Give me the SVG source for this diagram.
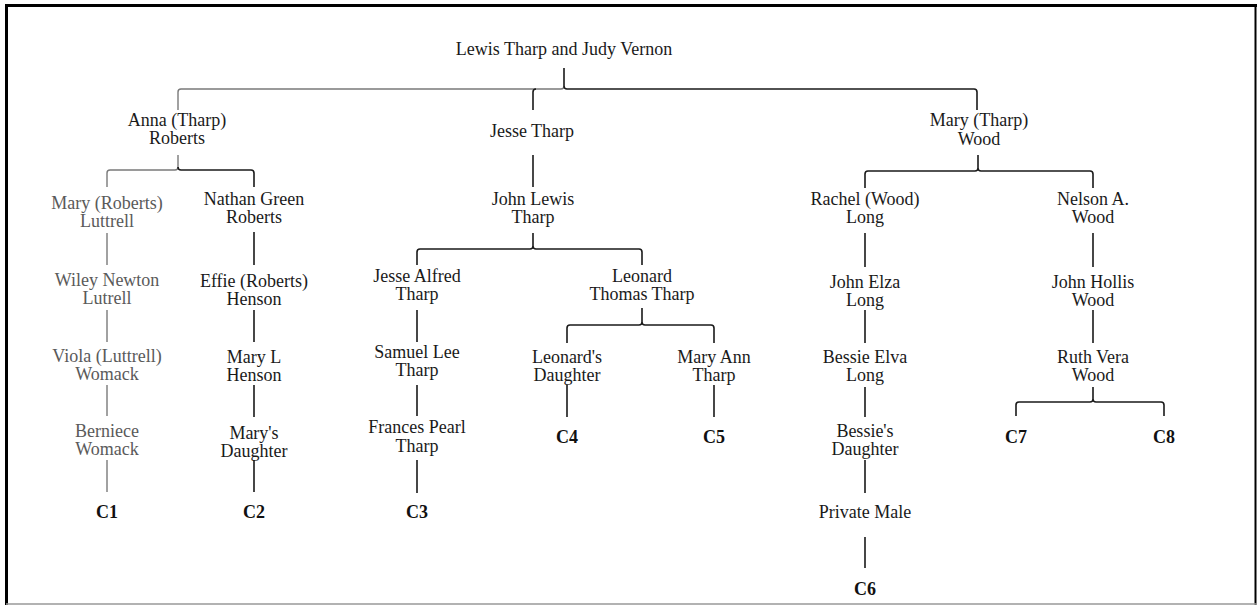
<svg xmlns="http://www.w3.org/2000/svg" width="1259" height="605" viewBox="0 0 1259 605">
<style>
text{font-family:"Liberation Serif","Times New Roman",serif;font-size:18px;text-anchor:middle;fill:#1a1a1a}
.g text{fill:#5a5a5a}
.c{font-weight:bold;fill:#111}
.ln{fill:none;stroke:#1a1a1a;stroke-width:1.6}
.lg{fill:none;stroke:#7a7a7a;stroke-width:1.4}
</style>
<rect x="0" y="0" width="1259" height="605" fill="#fff"/>
<g id="frame">
<line x1="6.5" y1="4" x2="6.5" y2="605" stroke="#000" stroke-width="3"/>
<line x1="5" y1="5.5" x2="1257" y2="5.5" stroke="#000" stroke-width="3"/>
<line x1="1255.5" y1="4" x2="1255.5" y2="605" stroke="#000" stroke-width="2"/>
<line x1="6" y1="604" x2="1257" y2="604" stroke="#999" stroke-width="1.5"/>
</g>
<g id="connectors">
<path class="lg" d="M178 110 V92 Q178 89 181 89 H561 Q564 89 564 86"/>
<path class="ln" d="M564 68 V86 Q564 89 567 89 H974 Q977 89 977 92 V110"/>
<path class="ln" d="M533 110 V92 Q533 89 536 89"/>
<path class="lg" d="M178 155 V167 Q178 170 175 170 H110 Q107 170 107 173 V187"/>
<path class="ln" d="M178 167 Q178 170 181 170 H251 Q254 170 254 173 V187"/>
<path class="lg" d="M107 233 V265 M107 310 V342 M107 385 V416 M107 460 V492"/>
<path class="ln" d="M254 232 V265 M254 310 V342 M254 385 V417 M254 460 V492"/>
<path class="ln" d="M533 155 V187"/>
<path class="ln" d="M533 233 V246 Q533 249 530 249 H420 Q417 249 417 252 V265 M533 246 Q533 249 536 249 H639 Q642 249 642 252 V265"/>
<path class="ln" d="M417 310 V342 M417 385 V416 M417 460 V493"/>
<path class="ln" d="M642 308 V322 Q642 325 639 325 H570 Q567 325 567 328 V343 M642 322 Q642 325 645 325 H711 Q714 325 714 328 V343"/>
<path class="ln" d="M567 385 V417 M714 385 V417"/>
<path class="ln" d="M978 155 V168 Q978 171 975 171 H868 Q865 171 865 174 V188 M978 168 Q978 171 981 171 H1090 Q1093 171 1093 174 V188"/>
<path class="ln" d="M865 233 V267 M865 310 V343 M865 387 V417 M865 460 V493 M865 537 V568"/>
<path class="ln" d="M1093 233 V267 M1093 310 V343"/>
<path class="ln" d="M1093 387 V399 Q1093 402 1090 402 H1019 Q1016 402 1016 405 V416 M1093 399 Q1093 402 1096 402 H1161 Q1164 402 1164 405 V416"/>
</g>
<g id="n-root"><text x="564" y="55">Lewis Tharp and Judy Vernon</text></g>
<g id="n-anna"><text x="177" y="126">Anna (Tharp)<tspan x="177" dy="18">Roberts</tspan></text></g>
<g id="n-jesse"><text x="532" y="137">Jesse Tharp</text></g>
<g id="n-marywood"><text x="979" y="126">Mary (Tharp)<tspan x="979" dy="19">Wood</tspan></text></g>
<g class="g">
<g id="n-maryluttrell"><text x="107" y="209">Mary (Roberts)<tspan x="107" dy="18">Luttrell</tspan></text></g>
<g id="n-wiley"><text x="107" y="286">Wiley Newton<tspan x="107" dy="18">Lutrell</tspan></text></g>
<g id="n-viola"><text x="107" y="362">Viola (Luttrell)<tspan x="107" dy="18">Womack</tspan></text></g>
<g id="n-berniece"><text x="107" y="437">Berniece<tspan x="107" dy="18">Womack</tspan></text></g>
</g>
<g id="n-c1"><text class="c" x="107" y="518">C1</text></g>
<g id="n-nathan"><text x="254" y="205">Nathan Green<tspan x="254" dy="18">Roberts</tspan></text></g>
<g id="n-effie"><text x="254" y="287">Effie (Roberts)<tspan x="254" dy="18">Henson</tspan></text></g>
<g id="n-maryl"><text x="254" y="363">Mary L<tspan x="254" dy="18">Henson</tspan></text></g>
<g id="n-marysd"><text x="254" y="439">Mary's<tspan x="254" dy="18">Daughter</tspan></text></g>
<g id="n-c2"><text class="c" x="254" y="518">C2</text></g>
<g id="n-johnlewis"><text x="533" y="205">John Lewis<tspan x="533" dy="18">Tharp</tspan></text></g>
<g id="n-jessealfred"><text x="417" y="282">Jesse Alfred<tspan x="417" dy="18">Tharp</tspan></text></g>
<g id="n-samuel"><text x="417" y="358">Samuel Lee<tspan x="417" dy="18">Tharp</tspan></text></g>
<g id="n-frances"><text x="417" y="433">Frances Pearl<tspan x="417" dy="19">Tharp</tspan></text></g>
<g id="n-c3"><text class="c" x="417" y="518">C3</text></g>
<g id="n-leonard"><text x="642" y="282">Leonard<tspan x="642" dy="18">Thomas Tharp</tspan></text></g>
<g id="n-leonardsd"><text x="567" y="363">Leonard's<tspan x="567" dy="18">Daughter</tspan></text></g>
<g id="n-maryann"><text x="714" y="363">Mary Ann<tspan x="714" dy="18">Tharp</tspan></text></g>
<g id="n-c4"><text class="c" x="567" y="443">C4</text></g>
<g id="n-c5"><text class="c" x="714" y="443">C5</text></g>
<g id="n-rachel"><text x="865" y="205">Rachel (Wood)<tspan x="865" dy="18">Long</tspan></text></g>
<g id="n-johnelza"><text x="865" y="288">John Elza<tspan x="865" dy="18">Long</tspan></text></g>
<g id="n-bessieelva"><text x="865" y="363">Bessie Elva<tspan x="865" dy="18">Long</tspan></text></g>
<g id="n-bessiesd"><text x="865" y="437">Bessie's<tspan x="865" dy="18">Daughter</tspan></text></g>
<g id="n-private"><text x="865" y="518">Private Male</text></g>
<g id="n-c6"><text class="c" x="865" y="595">C6</text></g>
<g id="n-nelson"><text x="1093" y="205">Nelson A.<tspan x="1093" dy="18">Wood</tspan></text></g>
<g id="n-johnhollis"><text x="1093" y="288">John Hollis<tspan x="1093" dy="18">Wood</tspan></text></g>
<g id="n-ruth"><text x="1093" y="363">Ruth Vera<tspan x="1093" dy="18">Wood</tspan></text></g>
<g id="n-c7"><text class="c" x="1016" y="443">C7</text></g>
<g id="n-c8"><text class="c" x="1164" y="443">C8</text></g>
</svg>
